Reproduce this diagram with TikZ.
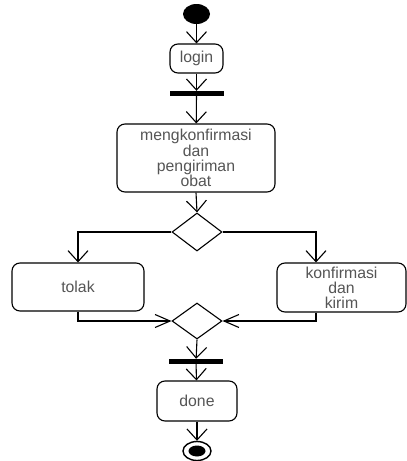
\documentclass[tikz,border=0pt]{standalone}
\usepackage{fontspec}
\setmainfont{Liberation Sans}
\usetikzlibrary{arrows.meta,shapes.geometric}
\definecolor{labelgray}{HTML}{555555}
\tikzset{
  act/.style={draw, line width=1.1pt, rounded corners=8pt, inner sep=0pt,
    align=center, text=labelgray, font=\fontsize{15.8}{15.2}\selectfont},
  bar/.style={fill=black, draw=none, inner sep=0pt, minimum width=54pt, minimum height=5pt},
  choice/.style={draw, line width=1.1pt, diamond, aspect=1.3, inner sep=0pt,
    minimum width=50pt, minimum height=38pt},
  flow/.style={line width=1.1pt, -{Straight Barb[length=11pt,width=20pt,line width=1.1pt]}},
  sideflow/.style={line width=1.1pt, -{Straight Barb[length=15pt,width=13pt,line width=1.1pt]}}
}
\begin{document}
\begin{tikzpicture}[x=1pt,y=-1pt]
\useasboundingbox (0,0) rectangle (407,461);

% initial and final states
\node[ellipse, fill=black, inner sep=0pt, minimum width=27pt, minimum height=20pt] (start) at (196.5,14) {};
\node[ellipse, draw, line width=1.4pt, inner sep=0pt, minimum width=28pt, minimum height=19pt] (final) at (197,451) {};
\node[ellipse, fill=black, inner sep=0pt, minimum width=17pt, minimum height=11pt] (finaldot) at (197,451) {};

% actions
\node[act, minimum width=53pt, minimum height=29pt] (login) at (196.5,58.5) {login};
\node[act, minimum width=158pt, minimum height=68pt] (kirim) at (196,158) {mengkonfirmasi\\dan\\pengiriman\\obat};
\node[act, minimum width=132pt, minimum height=48pt] (tolak) at (78,287) {tolak};
\node[act, minimum width=129pt, minimum height=49pt] (konf) at (341.5,287.5) {konfirmasi\\dan\\kirim};
\node[act, minimum width=80pt, minimum height=40pt] (done) at (197,401) {done};

% fork / join bars
\node[bar] (fork) at (196.5,93.5) {};
\node[bar] (join) at (196,361.5) {};

% decision and merge
\node[choice] (dec) at (197,232) {};
\node[choice, minimum height=36pt] (merge) at (197,321) {};

% control flow
\draw[flow] (start) -- (login);
\draw[flow] (login) -- (fork);
\draw[flow] (fork) -- (kirim);
\draw[flow] (kirim.south) -- (dec.north);
\draw[flow] (dec.west) -| (tolak.north);
\draw[flow] (dec.east) -| ([xshift=-25.5pt]konf.north);
\draw[sideflow] (tolak.south) |- (merge.west);
\draw[sideflow] ([xshift=-25.5pt]konf.south) |- (merge.east);
\draw[flow] (merge.south) -- (join);
\draw[flow] (join) -- (done);
\draw[flow] (done) -- (final);
\end{tikzpicture}
\end{document}
